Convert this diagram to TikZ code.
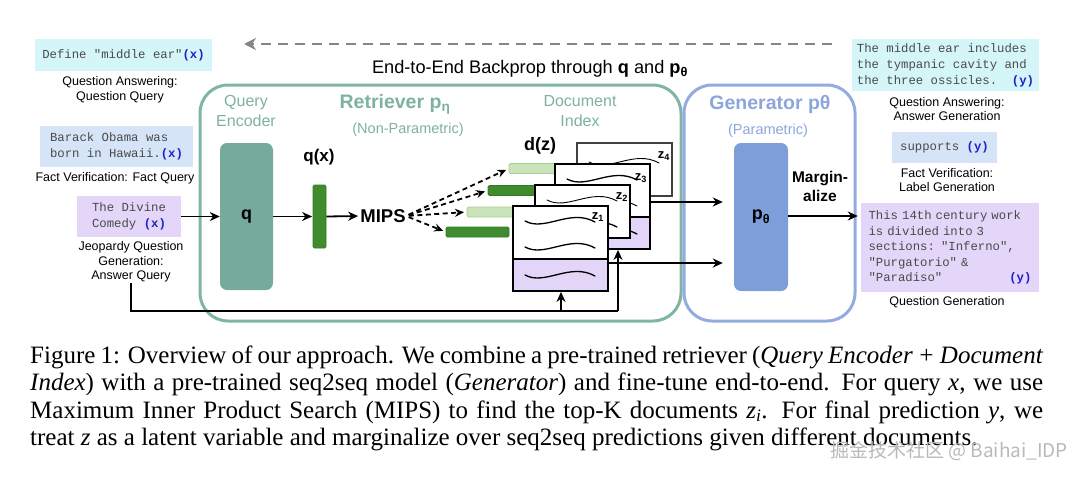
\documentclass[tikz,border=0pt]{standalone}
\usepackage{fontspec}
\setmainfont{Liberation Serif}
\setsansfont{Liberation Sans}
\setmonofont{Liberation Mono}
\newfontfamily\cjk{Noto Sans CJK SC}
\usetikzlibrary{arrows.meta,calc}
\definecolor{ret}{HTML}{80B4A4}
\definecolor{rettxt}{HTML}{7DB1A2}
\definecolor{gen}{HTML}{93ACE0}
\definecolor{gentxt}{HTML}{8CA5DD}
\definecolor{qfill}{HTML}{76AA9B}
\definecolor{pfill}{HTML}{7E9EDA}
\definecolor{dgreen}{HTML}{3F8B2E}
\definecolor{dgreenb}{HTML}{2F7A22}
\definecolor{lgreen}{HTML}{CBE3BA}
\definecolor{lgreenb}{HTML}{A9D08E}
\definecolor{purp}{HTML}{E2D5F7}
\definecolor{cyanbox}{HTML}{D4F6F9}
\definecolor{bluebox}{HTML}{D6E4F8}
\definecolor{lavbox}{HTML}{E4D6F8}
\definecolor{xblue}{HTML}{1F22C8}
\definecolor{monotxt}{HTML}{4A4A4A}
\definecolor{bpgray}{HTML}{868686}
\newcommand\xv{\textbf{\textcolor{xblue}{(x)}}}
\newcommand\yv{\textbf{\textcolor{xblue}{(y)}}}
\begin{document}
\begin{tikzpicture}[x=1pt,y=-1pt,
  lbl/.style={font=\sffamily\fontsize{12.5}{14.5}\selectfont, align=center, inner sep=0pt},
  mono/.style={font=\ttfamily\fontsize{12.3}{16}\selectfont, text=monotxt, align=left, inner sep=0pt},
  arr/.style={line width=1.8pt, -{Stealth[length=10pt,width=9pt]}},
  darr/.style={line width=1.8pt, dash pattern=on 5pt off 3.5pt, -{Stealth[length=9pt,width=8pt]}},
  wv/.style={line width=1.3pt, line cap=round},
  thinwv/.style={line width=0.9pt, line cap=round},
  docw/.style={draw, line width=1.8pt, fill=white, minimum width=95pt, minimum height=53pt, inner sep=0pt},
  docp/.style={docw, fill=purp, minimum height=32pt},
  vecbar/.style={minimum width=63pt, minimum height=10pt, inner sep=0pt, rounded corners=1.5pt, line width=0.8pt},
  darkbar/.style={vecbar, fill=dgreen, draw=dgreenb},
  lightbar/.style={vecbar, fill=lgreen, draw=lgreenb},
  zlab/.style={font=\sffamily\bfseries\fontsize{13}{13}\selectfont, inner sep=0pt},
  caption/.style={anchor=base west, inner sep=0pt, font=\rmfamily\fontsize{25}{28}\selectfont},
  wavepic/.pic={\draw[wv] (0,0) .. controls (20,11) and (45,-13) .. (70,1);},
  thinwavepic/.pic={\draw[thinwv] (0,0) .. controls (20,11) and (45,-13) .. (70,1);}
]
\useasboundingbox (0,0) rectangle (1080,477);

% backprop arrow
\coordinate (bpR) at (832,44);
\coordinate (bpL) at (244,44);
\draw[bpgray, line width=2.5pt, dash pattern=on 10pt off 7pt, -{Stealth[length=12pt,width=12pt]}] (bpR) -- (bpL);
\node[font=\sffamily\fontsize{18.2}{20}\selectfont, inner sep=0pt] (bplab) at (530,68.5)
  {End-to-End Backprop through \textbf{q} and \textbf{p}\textsubscript{\textbf{θ}}};

% big boxes
\node[draw=ret, line width=3pt, rounded corners=28pt, minimum width=481pt, minimum height=236pt] (retr) at (440.5,203) {};
\node[draw=gen, line width=3pt, rounded corners=28pt, minimum width=171pt, minimum height=236pt] (genr) at (769.5,203) {};

% titles
\node[font=\sffamily\fontsize{16}{20}\selectfont, text=rettxt, align=center, inner sep=0pt] (qenc) at (246,111) {Query\\Encoder};
\node[font=\sffamily\bfseries\fontsize{19.5}{22}\selectfont, text=rettxt, inner sep=0pt] (rtitle) at (395,104) {Retriever p\textsubscript{η}};
\node[font=\sffamily\fontsize{14.5}{17}\selectfont, text=rettxt, inner sep=0pt] (rsub) at (408,130) {(Non-Parametric)};
\node[font=\sffamily\fontsize{16}{20}\selectfont, text=rettxt, align=center, inner sep=0pt] (didx) at (580,111) {Document\\Index};
\node[font=\sffamily\bfseries\fontsize{19.5}{22}\selectfont, text=gentxt, inner sep=0pt] (gtitle) at (770,104) {Generator pθ};
\node[font=\sffamily\fontsize{14.5}{17}\selectfont, text=gentxt, inner sep=0pt] (gsub) at (768,131) {(Parametric)};

% encoder
\node[fill=qfill, rounded corners=7pt, minimum width=53pt, minimum height=147pt, inner sep=0pt,
  font=\sffamily\bfseries\fontsize{18}{20}\selectfont] (qbox) at (246.5,216.5) {q};
\node[fill=dgreen, draw=dgreenb, line width=0.8pt, rounded corners=1.5pt, minimum width=13pt, minimum height=63pt, inner sep=0pt] (qxbar) at (319.5,216.5) {};
\node[font=\sffamily\bfseries\fontsize{17}{20}\selectfont, inner sep=0pt] (qxlab) at (319,157) {q(x)};
\node[font=\sffamily\bfseries\fontsize{18.5}{20}\selectfont, inner sep=0pt] (mips) at (383,216) {MIPS};
\node[font=\sffamily\bfseries\fontsize{18}{20}\selectfont, inner sep=0pt] (dzlab) at (540,146) {d(z)};

% vectors
\draw[darr, shorten <=3pt, shorten >=3pt] (mips.east) -- (509,168.5);
\draw[darr, shorten <=3pt, shorten >=3pt] (mips.east) -- (488,190.5);
\draw[darr, shorten <=3pt, shorten >=3pt] (mips.east) -- (467,212);
\draw[darr, shorten <=3pt, shorten >=3pt] (mips.east) -- (446,232);
\node[lightbar] (bar4) at (540.5,168.5) {};
\node[darkbar] (bar3) at (519.5,190.5) {};
\node[lightbar] (bar2) at (498.5,212) {};
\node[darkbar] (bar1) at (477.5,232) {};

% documents
\node[docw, line width=1.2pt, draw=black!75] (z4) at (624.5,169.5) {};
\pic at (589,162) {thinwavepic};
\node[zlab] (z4l) at (664,156) {z\textsubscript{4}};

\node[docp] (z3b) at (602.5,233) {};
\node[docw] (z3) at (602.5,190.5) {};
\pic at (567,179) {wavepic};
\pic at (567,205) {thinwavepic};
\pic at (567,233) {wavepic};
\node[zlab] (z3l) at (641,178) {z\textsubscript{3}};

\node[docw, line width=1.4pt] (z2) at (582.5,211.5) {};
\pic at (547,200) {thinwavepic};
\pic at (547,226) {wavepic};
\node[zlab] (z2l) at (622,197) {z\textsubscript{2}};

\node[docp] (z1b) at (560.5,275) {};
\node[docw] (z1) at (560.5,232.5) {};
\pic at (525,221) {wavepic};
\pic at (525,247) {wavepic};
\pic at (525,275) {wavepic};
\node[zlab] (z1l) at (598,217) {z\textsubscript{1}};

% generator
\node[fill=pfill, rounded corners=7pt, minimum width=54pt, minimum height=148pt, inner sep=0pt,
  font=\sffamily\bfseries\fontsize{18}{20}\selectfont] (pbox) at (761,217) {p\textsubscript{θ}};
\node[font=\sffamily\bfseries\fontsize{15.5}{19}\selectfont, align=center, inner sep=0pt] (marg) at (820,186) {Margin-\\alize};

% left inputs
\node[mono, fill=cyanbox, minimum width=177pt, minimum height=32pt, align=center] (defbox) at (123.5,55) {Define "middle ear"\xv};
\node[lbl] (qa1) at (120,90) {Question Answering:\\Question Query};
\node[mono, fill=bluebox, minimum width=153pt, minimum height=41pt] (bobox) at (116.5,146.5) {Barack Obama was\\born in Hawaii.\xv};
\node[lbl] (fv1) at (115,178) {Fact Verification: Fact Query};
\node[mono, fill=lavbox, minimum width=104pt, minimum height=41pt] (divbox) at (129,216.5) {The Divine\\Comedy \xv};
\node[lbl] (jq) at (131,262) {Jeopardy Question\\Generation:\\Answer Query};

% right outputs
\node[mono, fill=cyanbox, minimum width=187pt, minimum height=52pt] (ansbox) at (945.5,65)
  {The middle ear includes\\the tympanic cavity and\\the three ossicles.\ \ \yv};
\node[lbl] (qa2) at (947,109) {Question Answering:\\Answer Generation};
\node[mono, fill=bluebox, minimum width=105pt, minimum height=31pt] (supbox) at (944.5,147.5) {supports \yv};
\node[lbl] (fv2) at (947,180) {Fact Verification:\\Label Generation};
\node[mono, font=\ttfamily\fontsize{12.3}{15.6}\selectfont, fill=lavbox, minimum width=178pt, minimum height=89pt, text width=163pt] (qgbox) at (950,247.5)
  {This 14th century work\\is divided into 3\\sections: "Inferno",\\"Purgatorio" \&\\"Paradiso"\hfill\yv};
\node[lbl] (qg) at (947,302) {Question Generation};

% connectors
\draw[arr] (divbox.east) -- (qbox.west);
\draw[arr, shorten >=0.5pt] (qbox.east) -- (qxbar.west);
\draw[arr, shorten >=2pt] (qxbar.east) -- (mips.west);
\draw[arr, shorten >=11pt] (z3.east |- 0,202) -- (pbox.west |- 0,202);
\draw[arr, shorten >=11pt] (z1b.east |- 0,263) -- (pbox.west |- 0,263);
\draw[arr, shorten >=3pt] (pbox.east |- 0,216) -- (qgbox.west |- 0,216);
\coordinate (j1) at (618,311);
\coordinate (j2) at (561,311);
\draw[line width=1.8pt] (jq.south) |- (j1);
\draw[arr] (j1) -- (j1 |- z3b.south);
\draw[arr] (j2) -- (j2 |- z1b.south);

% caption
\node[caption] (cap1) at (30,363)
  {\makebox[1013pt][s]{Figure 1: Overview of our approach. We combine a pre-trained retriever (\textit{Query Encoder + Document}}};
\node[caption] (cap2) at (30,390.5)
  {\makebox[1013pt][s]{\textit{Index}) with a pre-trained seq2seq model (\textit{Generator}) and fine-tune end-to-end. For query \textit{x}, we use}};
\node[caption] (cap3) at (30,418)
  {\makebox[1013pt][s]{Maximum Inner Product Search (MIPS) to find the top-K documents \textit{z\textsubscript{i}}. For final prediction \textit{y}, we}};
\node[caption] (cap4) at (30,445.5)
  {treat \textit{z} as a latent variable and marginalize over seq2seq predictions given different documents.};
\node[font=\cjk\fontsize{19}{20}\selectfont, text=gray!55, inner sep=0pt, anchor=east] (wm) at (1068,451) {掘金技术社区 @ Baihai\_IDP};
\end{tikzpicture}
\end{document}
